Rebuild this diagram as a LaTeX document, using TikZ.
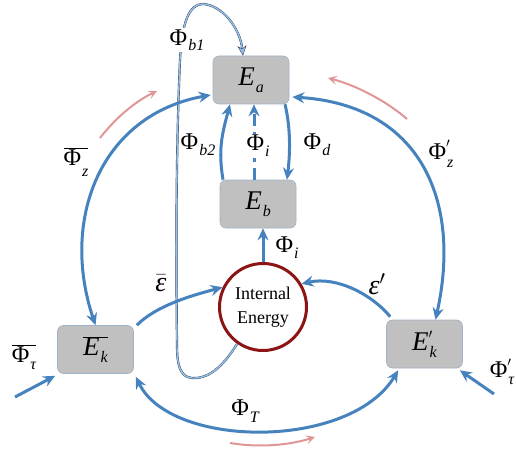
\RequirePackage{fix-cm}
\documentclass[tikz,border=0pt]{standalone}
\usepackage{fontspec}
\setmainfont{Liberation Serif}
\usetikzlibrary{arrows.meta}
\definecolor{arrblue}{RGB}{70,130,190}
\definecolor{boxgray}{RGB}{192,192,192}
\definecolor{boxedge}{RGB}{160,178,200}
\definecolor{iered}{RGB}{140,20,20}
\definecolor{pinkarr}{RGB}{225,150,150}
\definecolor{lightline}{RGB}{150,192,230}
\definecolor{darkline}{RGB}{45,65,95}
% main symbol with lowered italic subscript
\newcommand\Lb[3][7pt]{#2\hspace{1pt}\raisebox{-#1}{\fontsize{16}{16}\selectfont\itshape #3}}
% main symbol with prime and lowered italic subscript
\newcommand\Lp[3][7pt]{#2\rlap{\raisebox{0.2em}{\fontsize{19}{19}\selectfont$'$}}\hspace{1pt}\raisebox{-#1}{\fontsize{16}{16}\selectfont\itshape #3}}
\tikzset{
  ebox/.style={draw=boxedge, line width=0.6pt, fill=boxgray, rounded corners=6pt,
    minimum width=76pt, minimum height=48pt, font=\fontsize{27}{28}\selectfont\itshape},
  iecircle/.style={circle, draw=iered, line width=3pt, fill=white, minimum size=87pt,
    align=center, inner sep=0pt, font=\fontsize{18}{24}\selectfont},
  lbl/.style={font=\fontsize{24}{26}\selectfont, inner sep=1pt},
  wlbl/.style={lbl, fill=white, inner sep=2pt},
  barrow/.style={draw=arrblue, line width=3pt, -{Stealth[length=12pt,width=11pt,inset=4pt]}},
  bdouble/.style={draw=arrblue, line width=3pt, {Stealth[length=12pt,width=11pt,inset=4pt]}-{Stealth[length=12pt,width=11pt,inset=4pt]}},
  parrow/.style={draw=pinkarr, line width=2pt, -{Stealth[length=9pt,width=9pt,inset=4pt]}},
  thinarrow/.style={draw=darkline, double=lightline, double distance=1.4pt, line width=0.4pt,
    -{Stealth[length=10pt,width=9pt,inset=3pt,fill=lightline]}}
}
\begin{document}
\begin{tikzpicture}[x=1pt,y=-1pt]
\useasboundingbox (0,0) rectangle (516,457);

% nodes
\node[ebox] (Ea) at (251,80) {\Lb{E}{a}};
\node[ebox] (Eb) at (258,204) {\Lb{E}{b}};
\node[iecircle] (IE) at (263,307) {Internal\\Energy};
\node[ebox] (Ekb) at (95.5,349.5) {$\overline{\hbox{\Lb{E}{k}}}$};
\node[ebox] (Ekp) at (424.5,344) {\Lp{E}{k}};

% free ends
\coordinate (tL) at (15,397);
\coordinate (tR) at (494,394);
\coordinate (pa1) at (100,138);
\coordinate (pa2) at (157,91);
\coordinate (pb1) at (407,119);
\coordinate (pb2) at (328,78);
\coordinate (pc1) at (230,443);
\coordinate (pc2) at (315,437);

% Phi_b1 loop
\draw[thinarrow] (IE.235) .. controls (222,368) and (208,379) .. (192,378)
  .. controls (180,377) and (177,365) .. (177,345)
  .. controls (176,250) and (176,150) .. (180,60)
  .. controls (182,20) and (190,4) .. (203,4)
  .. controls (222,5) and (240,28) .. ([xshift=-8pt]Ea.north);
\node[wlbl] (lb1) at (187,40) {\Lb[5pt]{Φ}{b1}};
\node[wlbl] (lb2) at (198,145) {\Lb[6pt]{Φ}{b2}};

% inner arrows
\draw[barrow] ([xshift=-35pt]Eb.north) .. controls +(-5,-30) and +(-8,30) .. ([xshift=-21pt]Ea.south);
\draw[barrow, dash pattern=on 12pt off 6pt] ([xshift=-4pt]Eb.north) -- ([xshift=3pt]Ea.south);
\draw[barrow] ([xshift=34pt]Ea.south) .. controls +(6,25) and +(3,-25) .. ([xshift=29pt]Eb.north);
\draw[barrow] (IE.north) -- (IE.north |- Eb.south);
\draw[barrow] ([xshift=3pt]Ekb.north east) .. controls +(20,-20) and +(-30,8) .. (IE.154);
\draw[barrow] ([shift={(4,-3)}]Ekp.north west) .. controls +(-18,-22) and +(35,-8) .. (IE.31);

% big arcs
\draw[bdouble] (Ekb.north) .. controls (60,220) and (100,115) .. ([shift={(-2,15)}]Ea.west);
\draw[bdouble] ([shift={(3,17)}]Ea.east) .. controls (420,105) and (462,200) .. ([xshift=11pt]Ekp.north);
\draw[bdouble] ([shift={(2,3)}]Ekb.south east) .. controls +(35,72) and +(-48,80) .. ([shift={(12,2)}]Ekp.south west);
\draw[barrow] (tL) -- ([shift={(-2,2)}]Ekb.south west);
\draw[barrow] (tR) -- ([shift={(-3,2)}]Ekp.south east);

% pink arrows
\draw[parrow] (pa1) .. controls (118,115) and (138,100) .. (pa2);
\draw[parrow] (pb1) .. controls (385,100) and (355,85) .. (pb2);
\draw[parrow] (pc1) .. controls (260,448) and (290,445) .. (pc2);

% labels
\node[wlbl, inner sep=1pt] (li1) at (258,146) {\Lb[6pt]{Φ}{i}};
\node[lbl] (ld) at (317,145) {\Lb[6pt]{Φ}{d}};
\node[lbl] (li2) at (287,248) {\Lb[6pt]{Φ}{i}};
\node[lbl] (lzb) at (76,162) {$\overline{\hbox{\Lb[11pt]{Φ}{z}}}$};
\node[lbl] (lzp) at (441,154) {\Lp[8pt]{Φ}{z}};
\node[lbl, font=\fontsize{28}{28}\selectfont\itshape] (leb) at (161,283) {$\bar{\hbox{ε}}$};
\node[lbl, font=\fontsize{28}{28}\selectfont\itshape] (lep) at (377,284) {ε$'$};
\node[lbl] (lT) at (245,411) {\Lb[7pt]{Φ}{T}};
\node[lbl] (ltb) at (24,357) {$\overline{\hbox{\Lb[7pt]{Φ}{τ}}}$};
\node[lbl] (ltp) at (502,372) {\Lp[7pt]{Φ}{τ}};
\end{tikzpicture}
\end{document}
